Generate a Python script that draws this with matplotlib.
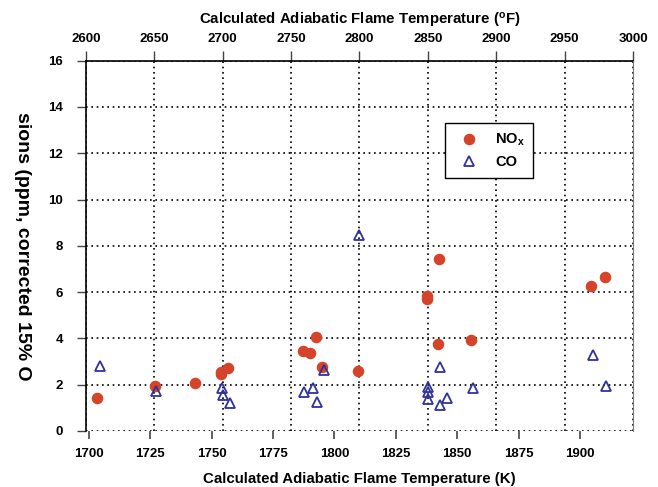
import numpy as np
import matplotlib
matplotlib.use('Agg')
import matplotlib.pyplot as plt

plt.rcParams['font.family'] = ['Liberation Sans', 'DejaVu Sans']
plt.rcParams['font.weight'] = 'bold'
plt.rcParams['mathtext.default'] = 'regular'

# ---- data ----
nox_k = [1703.5, 1726.8, 1743.4, 1753.7, 1754.0, 1756.6, 1787.1, 1790.2, 1792.6,
         1795.0, 1809.5, 1837.7, 1837.7, 1842.8, 1842.1, 1855.6, 1904.3, 1910.0]
nox_ppm = [1.43, 1.96, 2.09, 2.56, 2.45, 2.71, 3.46, 3.38, 4.05,
           2.75, 2.59, 5.83, 5.72, 7.43, 3.77, 3.93, 6.28, 6.66]

co_k = [1704.5, 1727.6, 1754.3, 1754.6, 1757.4, 1787.8, 1791.2, 1793.1, 1795.9,
        1810.2, 1838.3, 1838.3, 1838.3, 1843.1, 1843.2, 1845.8, 1856.4, 1905.3, 1910.7]
co_ppm = [2.80, 1.74, 1.84, 1.56, 1.20, 1.69, 1.85, 1.25, 2.65,
          8.47, 1.89, 1.67, 1.37, 2.75, 1.11, 1.41, 1.87, 3.27, 1.96]

k_ticks = np.arange(1700, 1901, 25)
f_ticks = np.arange(2600, 3001, 50)
y_ticks = np.arange(0, 17, 2)

red = '#d5432a'
blue = '#30339a'
dots = (0, (1, 2.2))

fig = plt.figure(figsize=(6.58, 4.87), dpi=100)
ax = fig.add_axes([0.1307, 0.115, 0.8313, 0.7604])
ax2 = ax.twiny()
# keep markers/horizontal grid above the vertical (top-axis) grid
ax.set_zorder(ax2.get_zorder() + 1)
ax.patch.set_visible(False)

ax.plot(nox_k, nox_ppm, 'o', ms=7.3, color=red, mec=red, label=r'NO$_x$', zorder=3)
ax.plot(co_k, co_ppm, '^', ms=6.8, mfc='none', mec=blue, mew=1.3, label='CO', zorder=3)

ax.set_xlim(1698.9, 1921.6)
ax.set_ylim(0, 16)
ax.set_xticks(k_ticks)
ax.set_yticks(y_ticks)
ax.grid(axis='y', color='black', ls=dots, lw=1.2)
ax.tick_params(axis='both', direction='out', colors='#444', labelcolor='black', labelsize=9.5)
ax.tick_params(axis='x', length=6, width=1.2, pad=6)
ax.tick_params(axis='y', length=6.5, width=1.0, pad=10)
ax.set_xlabel('Calculated Adiabatic Flame Temperature (K)', fontsize=10.8, fontweight='bold', labelpad=9)
ax.set_ylabel('sions (ppm, corrected 15% O', fontsize=14, fontweight='bold',
              rotation=-90, ha='center', va='center', rotation_mode='anchor')
ax.yaxis.set_label_coords(-0.117, 0.5)
for lab in ax.get_xticklabels() + ax.get_yticklabels():
    lab.set_fontweight('bold')

ax.spines['bottom'].set_visible(False)
ax.spines['right'].set_color('#777')
ax.spines['top'].set_visible(False)
ax.spines['left'].set_linewidth(1.2)

ax2.set_xlim(2600, 3000)
ax2.set_xticks(f_ticks)
ax2.grid(axis='x', color='black', ls=dots, lw=1.2)
ax2.tick_params(axis='x', direction='out', length=7, width=1.0, colors='#444',
                labelcolor='black', labelsize=9.5, pad=4)
for lab in ax2.get_xticklabels():
    lab.set_fontweight('bold')
ax2.set_xlabel(r'Calculated Adiabatic Flame Temperature ($^o$F)', fontsize=10.8,
               fontweight='bold', labelpad=6)
for s in ['left', 'right', 'bottom']:
    ax2.spines[s].set_visible(False)
ax2.spines['top'].set_linewidth(1.2)

leg = ax.legend(loc='upper left', bbox_to_anchor=(0.656, 0.832), borderaxespad=0,
                fancybox=False, framealpha=1, edgecolor='black', fontsize=10.5,
                handletextpad=0.74, borderpad=0.6, labelspacing=0.5, handlelength=2.1)
leg.get_frame().set_linewidth(1.0)
for t in leg.get_texts():
    t.set_fontweight('bold')

fig.savefig('out.png', dpi=100)
